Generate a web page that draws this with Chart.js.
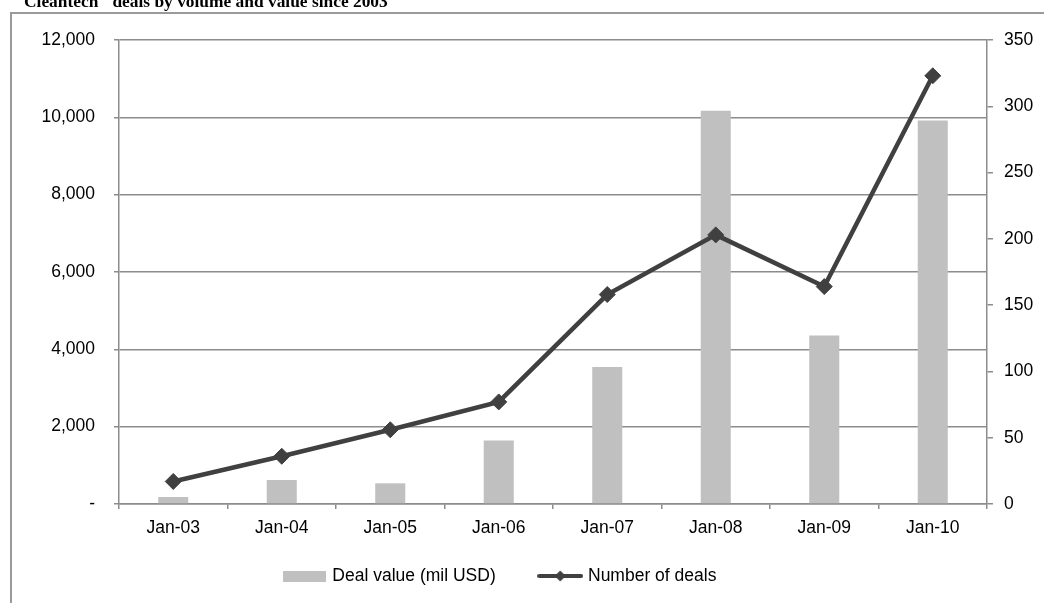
<!DOCTYPE html>
<html>
<head>
<meta charset="utf-8">
<script src="https://cdn.jsdelivr.net/npm/chart.js@4.4.1/dist/chart.umd.min.js"></script>
<style>
  body { margin: 0; background: #fff; overflow: hidden; }
  #wrap { position: relative; width: 1044px; height: 603px; }
  #frame {
    position: absolute; left: 10px; top: 12px; width: 1100px; height: 700px;
    border-left: 2px solid #9a9a9a; border-top: 2px solid #9a9a9a;
  }
  #title {
    position: absolute; left: 24px; top: -8px; white-space: nowrap;
    font: bold 17.4px/18px "Liberation Serif", "Times New Roman", serif; color: #000;
    z-index: 2;
  }
  #chart_box { position: absolute; left: 0; top: 0; width: 1044px; height: 603px; }
</style>
</head>
<body>
<div id="wrap">
  <div id="frame"></div>
  <div id="title">Cleantech" deals by volume and value since 2003</div>
  <div id="chart_box"><canvas id="myChart"></canvas></div>
</div>
<script>
// data
const labels = ["Jan-03", "Jan-04", "Jan-05", "Jan-06", "Jan-07", "Jan-08", "Jan-09", "Jan-10"];
const dealValue = [180, 620, 535, 1640, 3540, 10170, 4355, 9920];
const dealCount = [17, 36, 56, 77, 158, 203, 164, 323];

const gridColor = '#8c8c8c';
const fontFamily = '"Liberation Sans", Arial, sans-serif';

// legend swatches
const barSwatch = document.createElement('canvas');
barSwatch.width = 43; barSwatch.height = 11;
let sctx = barSwatch.getContext('2d');
sctx.fillStyle = '#c0c0c0';
sctx.fillRect(0, 0, 43, 11);

const lineSwatch = document.createElement('canvas');
lineSwatch.width = 46; lineSwatch.height = 12;
sctx = lineSwatch.getContext('2d');
sctx.strokeStyle = '#404040';
sctx.lineWidth = 4;
sctx.lineCap = 'round';
sctx.beginPath(); sctx.moveTo(2, 6); sctx.lineTo(44, 6); sctx.stroke();
sctx.fillStyle = '#404040';
sctx.beginPath(); sctx.moveTo(23, 0.5); sctx.lineTo(28.5, 6); sctx.lineTo(23, 11.5); sctx.lineTo(17.5, 6); sctx.closePath(); sctx.fill();

// move the legend to where the reference has it
const legendPlace = {
  id: 'legendPlace',
  afterLayout(chart) {
    const lg = chart.legend;
    const dx = -21;
    const dy = 521.75 - lg.top;
    lg.left += dx; lg.right += dx;
    lg.top += dy; lg.bottom += dy;
  }
};

const ctx = document.getElementById('myChart').getContext('2d');
const myChart = new Chart(ctx, {
  data: {
    labels: labels,
    datasets: [{
      type: 'line',
      label: 'Number of deals',
      data: dealCount,
      yAxisID: 'y1',
      borderColor: '#404040',
      backgroundColor: '#404040',
      borderWidth: 4.5,
      pointStyle: 'rectRot',
      pointRadius: 8,
      pointBorderWidth: 1,
      tension: 0,
      order: 0
    }, {
      type: 'bar',
      label: 'Deal value (mil USD)',
      data: dealValue,
      yAxisID: 'y',
      backgroundColor: '#c0c0c0',
      borderWidth: 0,
      barPercentage: 0.277,
      categoryPercentage: 1,
      order: 1
    }]
  },
  options: {
    responsive: true,
    maintainAspectRatio: false,
    animation: false,
    layout: { padding: { left: 0, right: 0, top: 40, bottom: -14 } },
    scales: {
      x: {
        offset: true,
        grid: { offset: true, drawOnChartArea: false, color: gridColor, lineWidth: 1.5, tickLength: 5 },
        border: { color: gridColor, width: 1.5 },
        ticks: { color: '#000', padding: 9, maxRotation: 0, font: { family: fontFamily, size: 17.5 } },
        afterFit: (scale) => { scale.height = 40; }
      },
      y: {
        position: 'left',
        min: 0, max: 12000,
        ticks: {
          stepSize: 2000, color: '#000', padding: 19,
          font: { family: fontFamily, size: 17.5 },
          callback: (v) => v === 0 ? '-' : v.toLocaleString('en-US')
        },
        grid: { color: gridColor, lineWidth: 1.5, tickLength: 5 },
        border: { color: gridColor, width: 1.5 },
        afterFit: (scale) => { scale.width = 119; }
      },
      y1: {
        position: 'right',
        min: 0, max: 350,
        ticks: { stepSize: 50, color: '#000', padding: 11, font: { family: fontFamily, size: 17.5 } },
        grid: { drawOnChartArea: false, color: gridColor, lineWidth: 1.5, tickLength: 6 },
        border: { color: gridColor, width: 1.5 },
        afterFit: (scale) => { scale.width = 57; }
      }
    },
    plugins: {
      legend: {
        position: 'bottom',
        reverse: true,
        labels: {
          usePointStyle: true,
          pointStyleWidth: 38,
          padding: 45.5,
          color: '#000',
          font: { family: fontFamily, size: 17.5 },
          generateLabels: (chart) => {
            const items = Chart.defaults.plugins.legend.labels.generateLabels(chart);
            items.forEach((it) => {
              it.pointStyle = it.datasetIndex === 1 ? barSwatch : lineSwatch;
            });
            return items;
          }
        }
      },
      tooltip: { enabled: false }
    }
  },
  plugins: [legendPlace]
});
</script>
</body>
</html>
